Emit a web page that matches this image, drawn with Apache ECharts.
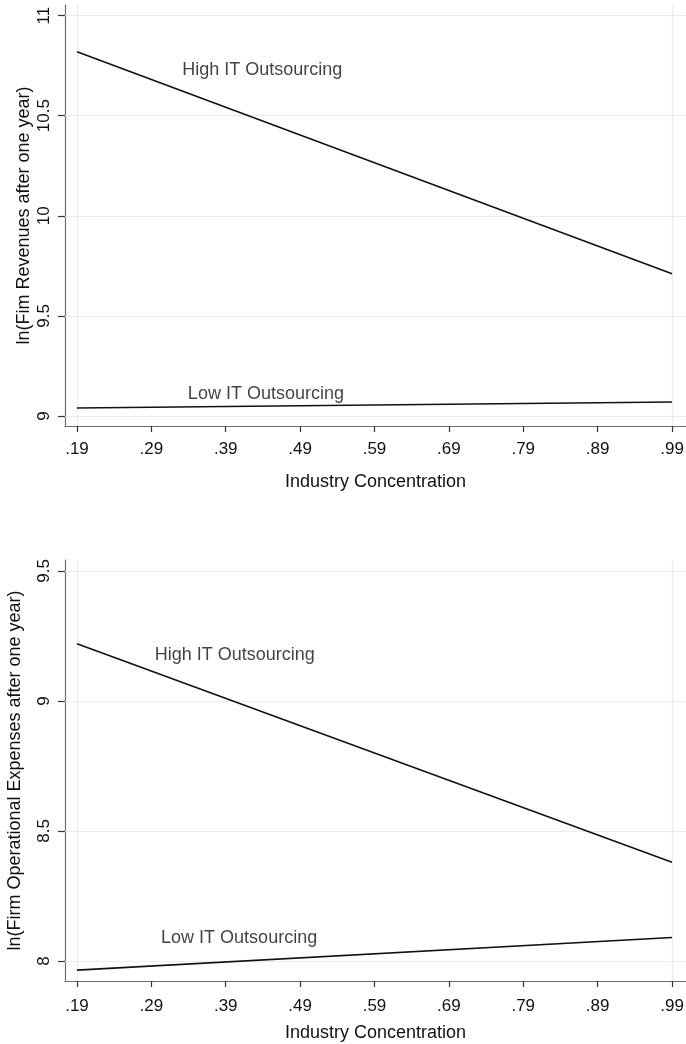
<!DOCTYPE html>
<html><head><meta charset="utf-8">
<script src="https://cdn.jsdelivr.net/npm/echarts@6/dist/echarts.min.js"></script>
<style>html,body{margin:0;padding:0;background:#fff}#c{width:686px;height:1044px}</style>
</head><body><div id="c"></div>
<script>
// ---- data ----
const xVals = [0.19, 0.99];
const xTicks = [0.19, 0.29, 0.39, 0.49, 0.59, 0.69, 0.79, 0.89, 0.99];
const revHigh = [10.82, 9.71];
const revLow = [9.04, 9.07];
const expHigh = [9.22, 8.38];
const expLow = [7.965, 8.09];
const revTicks = [9, 9.5, 10, 10.5, 11];
const expTicks = [8, 8.5, 9, 9.5];
const seriesNames = ['High IT Outsourcing', 'Low IT Outsourcing'];
const revLabelPos = [[0.439, 10.73], [0.444, 9.11]];
const expLabelPos = [[0.402, 9.177], [0.408, 8.088]];
const xTitle = 'Industry Concentration';
const revTitle = 'ln(Fim Revenues after one year)';
const expTitle = 'ln(Firm Operational Expenses after one year)';

const FONT = '"Liberation Sans", Arial, sans-serif';
const TXT = '#111';
const AX = '#6e6e6e';
const GRIDC = '#ececec';
const fmtX = v => v.toFixed(2).replace(/^0/, '');
const fmtY = v => String(v);

function xAxis(gi, min, labelMargin, nameGap) {
  return {
    type: 'value', gridIndex: gi, min: min, max: 1.0088,
    axisLine: {show: true, onZero: false, lineStyle: {color: AX, width: 1.2}},
    axisTick: {show: true, customValues: xTicks, length: 6, lineStyle: {color: '#333', width: 1.2}},
    axisLabel: {customValues: xTicks, formatter: fmtX, margin: labelMargin, fontSize: 17, color: TXT, fontFamily: FONT},
    splitLine: {show: false},
    name: xTitle, nameLocation: 'middle', nameGap: nameGap, nameMoveOverlap: false,
    nameTextStyle: {fontSize: 18, color: TXT, fontFamily: FONT}
  };
}
function yAxis(gi, min, max, ticks, title, nameGap) {
  return {
    type: 'value', gridIndex: gi, min: min, max: max,
    axisLine: {show: true, onZero: false, lineStyle: {color: AX, width: 1.2}},
    axisTick: {show: true, customValues: ticks, length: 7, lineStyle: {color: '#333', width: 1.2}},
    axisLabel: {customValues: ticks, formatter: fmtY, rotate: 90, margin: 12, fontSize: 17, color: TXT, fontFamily: FONT},
    splitLine: {show: false},
    name: title, nameLocation: 'middle', nameGap: nameGap, nameMoveOverlap: false,
    nameTextStyle: {fontSize: 18, color: TXT, fontFamily: FONT}
  };
}
function gridSeries(gi, ticks) {
  return {
    type: 'line', xAxisIndex: gi, yAxisIndex: gi, data: [], z: 1, animation: false, silent: true,
    markLine: {
      z: 1, silent: true, symbol: 'none', animation: false,
      label: {show: false}, emphasis: {disabled: true},
      lineStyle: {color: GRIDC, width: 1.2, type: 'solid'},
      data: ticks.map(t => ({yAxis: t})).concat([{xAxis: xVals[0]}, {xAxis: xVals[1]}])
    }
  };
}
function lineSeries(gi, ys) {
  return {
    type: 'line', xAxisIndex: gi, yAxisIndex: gi,
    data: xVals.map((x, i) => [x, ys[i]]),
    showSymbol: false, symbol: 'none', animation: false,
    lineStyle: {color: '#111', width: 1.6}, z: 3
  };
}
function labelSeries(gi, pos) {
  return {
    type: 'scatter', xAxisIndex: gi, yAxisIndex: gi, symbolSize: 0, animation: false, silent: true,
    data: pos.map((p, i) => ({value: p, name: seriesNames[i]})),
    label: {show: true, position: 'inside', formatter: p => p.name, fontSize: 18, color: TXT, fontFamily: FONT}
  };
}

const chart = echarts.init(document.getElementById('c'), null, {renderer: 'canvas'});
chart.setOption({
  backgroundColor: '#fff',
  animation: false,
  grid: [
    {left: 65, top: 5, width: 621, height: 421, containLabel: false, outerBoundsMode: 'none'},
    {left: 65, top: 560, width: 621, height: 421, containLabel: false, outerBoundsMode: 'none'}
  ],
  xAxis: [xAxis(0, 0.1739, 15, 47), xAxis(1, 0.1739, 17, 43)],
  yAxis: [
    yAxis(0, 8.95, 11.053, revTicks, revTitle, 32),
    yAxis(1, 7.923, 9.542, expTicks, expTitle, 41)
  ],
  series: [
    gridSeries(0, revTicks),
    gridSeries(1, expTicks),
    lineSeries(0, revHigh),
    lineSeries(0, revLow),
    lineSeries(1, expHigh),
    lineSeries(1, expLow),
    labelSeries(0, revLabelPos),
    labelSeries(1, expLabelPos)
  ]
});
</script></body></html>
